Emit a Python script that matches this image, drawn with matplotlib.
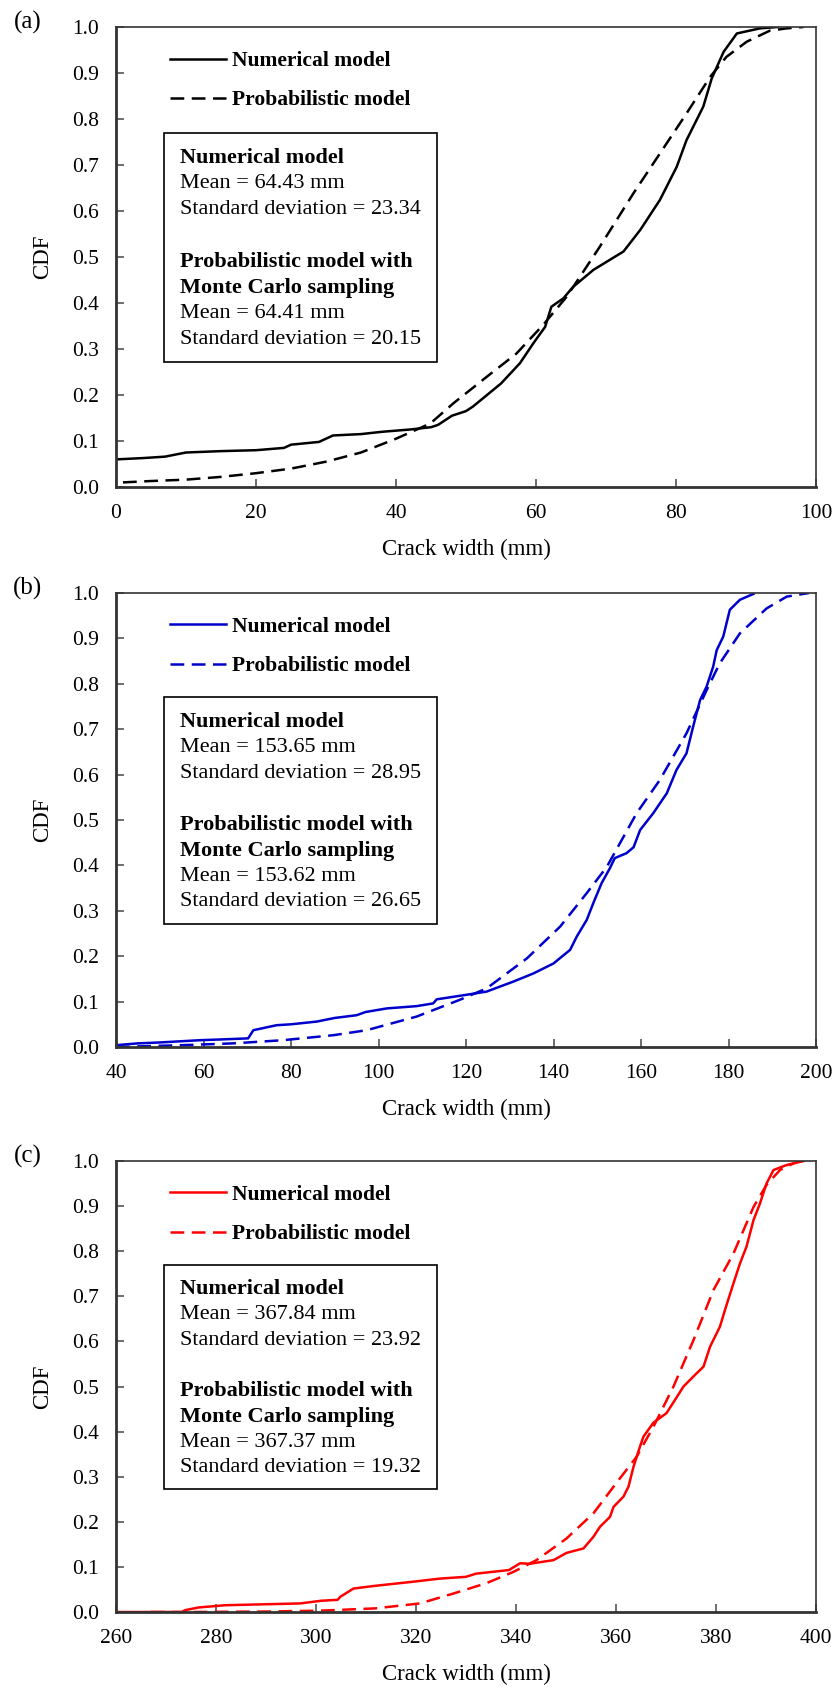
import matplotlib
matplotlib.use("Agg")
import matplotlib.pyplot as plt
from matplotlib.patches import Rectangle

plt.rcParams['font.family'] = ['Liberation Serif', 'DejaVu Serif']

# ---- data ----
# (a) black
a_num_x = [0, 4, 7, 10, 15, 20, 24, 25, 29, 31, 35, 38, 42, 45, 46, 48, 50, 51, 53, 55,
           57.7, 59.6, 61.3, 62.2, 63.9, 65.3, 68.2, 72.5, 74.9, 77.7, 80.1, 81.5, 83.9,
           85.1, 86.8, 88.7, 92, 94.5]
a_num_y = [0.060, 0.063, 0.066, 0.075, 0.078, 0.080, 0.085, 0.092, 0.098, 0.112, 0.115,
           0.120, 0.125, 0.130, 0.135, 0.155, 0.165, 0.175, 0.200, 0.225, 0.269, 0.312,
           0.348, 0.392, 0.410, 0.435, 0.472, 0.512, 0.559, 0.624, 0.696, 0.754, 0.827,
           0.888, 0.946, 0.986, 0.997, 1.0]
a_prob_x = [1, 5, 10, 15, 20, 25, 30, 35, 40, 44.9, 48.2, 53, 57.2, 61, 64.4, 69.1, 73.9,
            77.7, 81.5, 84.9, 87.2, 90.1, 93.4, 95.8, 98.2]
a_prob_y = [0.010, 0.013, 0.016, 0.022, 0.030, 0.040, 0.055, 0.075, 0.105, 0.138, 0.182,
            0.240, 0.290, 0.352, 0.414, 0.522, 0.638, 0.725, 0.812, 0.892, 0.935, 0.968,
            0.992, 0.997, 1.0]

# (b) blue
b_num_x = [40, 45, 50, 59.2, 65, 70.2, 71.4, 76.7, 80, 85.9, 90, 95, 97, 101.9, 108.7,
           112.5, 113.3, 120.1, 124.7, 130.8, 135.4, 140, 143.8, 145.3, 147.6, 149.1, 151,
           152.9, 154, 156.7, 158.3, 159.8, 162.8, 165.9, 168.1, 170.4, 171.9, 173.5, 175,
           176.5, 177.3, 178.8, 180.3, 182.6, 185.7]
b_num_y = [0.004, 0.008, 0.010, 0.015, 0.017, 0.019, 0.037, 0.048, 0.050, 0.056, 0.064,
           0.070, 0.077, 0.085, 0.090, 0.096, 0.105, 0.115, 0.122, 0.144, 0.162, 0.184,
           0.214, 0.243, 0.280, 0.317, 0.361, 0.394, 0.416, 0.427, 0.440, 0.478, 0.515,
           0.559, 0.610, 0.647, 0.705, 0.764, 0.794, 0.838, 0.874, 0.904, 0.963, 0.985,
           0.998]
b_prob_x = [40, 55, 66.8, 78.2, 89.7, 97.3, 108.7, 118.6, 124.7, 133.9, 141.5, 147.6,
            152.2, 159, 164.3, 170.4, 175, 178, 182.6, 188.7, 193.3, 198.4]
b_prob_y = [0.0, 0.004, 0.008, 0.015, 0.026, 0.037, 0.067, 0.104, 0.129, 0.195, 0.265,
            0.339, 0.397, 0.515, 0.588, 0.691, 0.786, 0.845, 0.911, 0.966, 0.992, 1.0]

# (c) red
c_num_x = [260, 273.2, 273.8, 276.5, 281.8, 296.8, 301.1, 304.3, 304.9, 307.5, 311.8,
           319.3, 324.7, 330, 332, 338.6, 340.8, 342.8, 347.5, 350.1, 353.5, 355.5, 356.8,
           358.8, 359.5, 361.5, 362.5, 363.5, 364.8, 365.5, 367.5, 370.1, 371.5, 373.5,
           376.1, 377.5, 378.8, 380.8, 381.8, 383.5, 384.8, 386.1, 387.5, 388.8, 390.1,
           391.5, 394.1, 397.5]
c_num_y = [0.0, 0.0, 0.004, 0.010, 0.015, 0.019, 0.025, 0.027, 0.034, 0.052, 0.058, 0.067,
           0.074, 0.078, 0.085, 0.093, 0.108, 0.107, 0.115, 0.131, 0.141, 0.167, 0.189,
           0.211, 0.233, 0.256, 0.278, 0.322, 0.367, 0.389, 0.420, 0.441, 0.465, 0.500,
           0.529, 0.544, 0.588, 0.633, 0.670, 0.729, 0.773, 0.810, 0.869, 0.906, 0.950,
           0.980, 0.991, 1.0]
c_prob_x = [267, 274.3, 290, 301, 311.8, 320.8, 327.5, 334.1, 339.5, 344.1, 350.1, 355.5,
            360, 364.1, 367.5, 371.5, 375.5, 379.5, 383.5, 387.5, 390.1, 392.8, 396.1, 398]
c_prob_y = [0.0, 0.0, 0.001, 0.003, 0.008, 0.019, 0.041, 0.064, 0.089, 0.115, 0.163,
            0.219, 0.285, 0.344, 0.411, 0.500, 0.603, 0.714, 0.795, 0.898, 0.947, 0.980,
            0.998, 1.0]

panel_labels = ['(a)', '(b)', '(c)']
colors = ['black', '#0000CC', '#FF0000']
xlims = [(0, 100), (40, 200), (260, 400)]
stats = [('64.43', '23.34', '64.41', '20.15'),
         ('153.65', '28.95', '153.62', '26.65'),
         ('367.84', '23.92', '367.37', '19.32')]
curves = [(a_num_x, a_num_y, a_prob_x, a_prob_y),
          (b_num_x, b_num_y, b_prob_x, b_prob_y),
          (c_num_x, c_num_y, c_prob_x, c_prob_y)]

W, H = 837, 1688
fig = plt.figure(figsize=(W / 100, H / 100), dpi=100)

# axes boxes in pixels: left, top, width, height
boxes = [(116, 27, 700, 460), (116, 593, 700, 454), (116, 1161, 700, 451)]

for i in range(3):
    l, t, w, h = boxes[i]
    ax = fig.add_axes([l / W, 1 - (t + h) / H, w / W, h / H])
    nx, ny, px, py = curves[i]
    col = colors[i]
    ax.plot(nx, ny, color=col, lw=1.8, label='Numerical model')
    ax.plot(px, py, color=col, lw=1.8, ls=(0, (5.5, 3)), label='Probabilistic model')

    x0, x1 = xlims[i]
    ax.set_xlim(x0, x1)
    ax.set_ylim(0, 1)
    ax.set_xticks(range(x0, x1 + 1, 20))
    ax.set_yticks([k / 10 for k in range(11)])
    ax.set_yticklabels(['%.1f' % (k / 10) for k in range(11)])
    ax.tick_params(direction='in', length=6, width=1.2, color='#555555',
                   labelsize=15.5, pad=12, top=False, right=False)
    for s in ax.spines.values():
        s.set_linewidth(1.2)
        s.set_color('#333333')
    ax.spines['bottom'].set_linewidth(2)
    ax.spines['left'].set_linewidth(2)
    ax.set_xlabel('Crack width (mm)', fontsize=16.5, labelpad=12)
    ax.set_ylabel('CDF', fontsize=16.5, labelpad=14)

    ax.legend(loc='upper left', bbox_to_anchor=(0.05, 0.99), frameon=False,
              handlelength=2.6, handletextpad=0.25, labelspacing=0.9,
              prop={'weight': 'bold', 'size': 15.5})

    # stats box
    ax.add_patch(Rectangle((0.069, 0.272), 0.39, 0.498, transform=ax.transAxes,
                           fill=False, lw=1.2, ec='black'))
    m1, s1, m2, s2 = stats[i]
    lines = [('Numerical model', 'bold'), ('Mean = %s mm' % m1, 'normal'),
             ('Standard deviation = %s' % s1, 'normal'), ('', 'normal'),
             ('Probabilistic model with', 'bold'), ('Monte Carlo sampling', 'bold'),
             ('Mean = %s mm' % m2, 'normal'), ('Standard deviation = %s' % s2, 'normal')]
    for k, (txt, wt) in enumerate(lines):
        ypx = 131 + 26 * k
        ax.text(0.091, 1 - ypx / 460, txt, transform=ax.transAxes, fontsize=16,
                fontweight=wt, va='center', ha='left')

    fig.text(28 / W, 1 - (t - 5) / H, panel_labels[i], fontsize=18, ha='center', va='center')

fig.savefig('out.png', dpi=100)
